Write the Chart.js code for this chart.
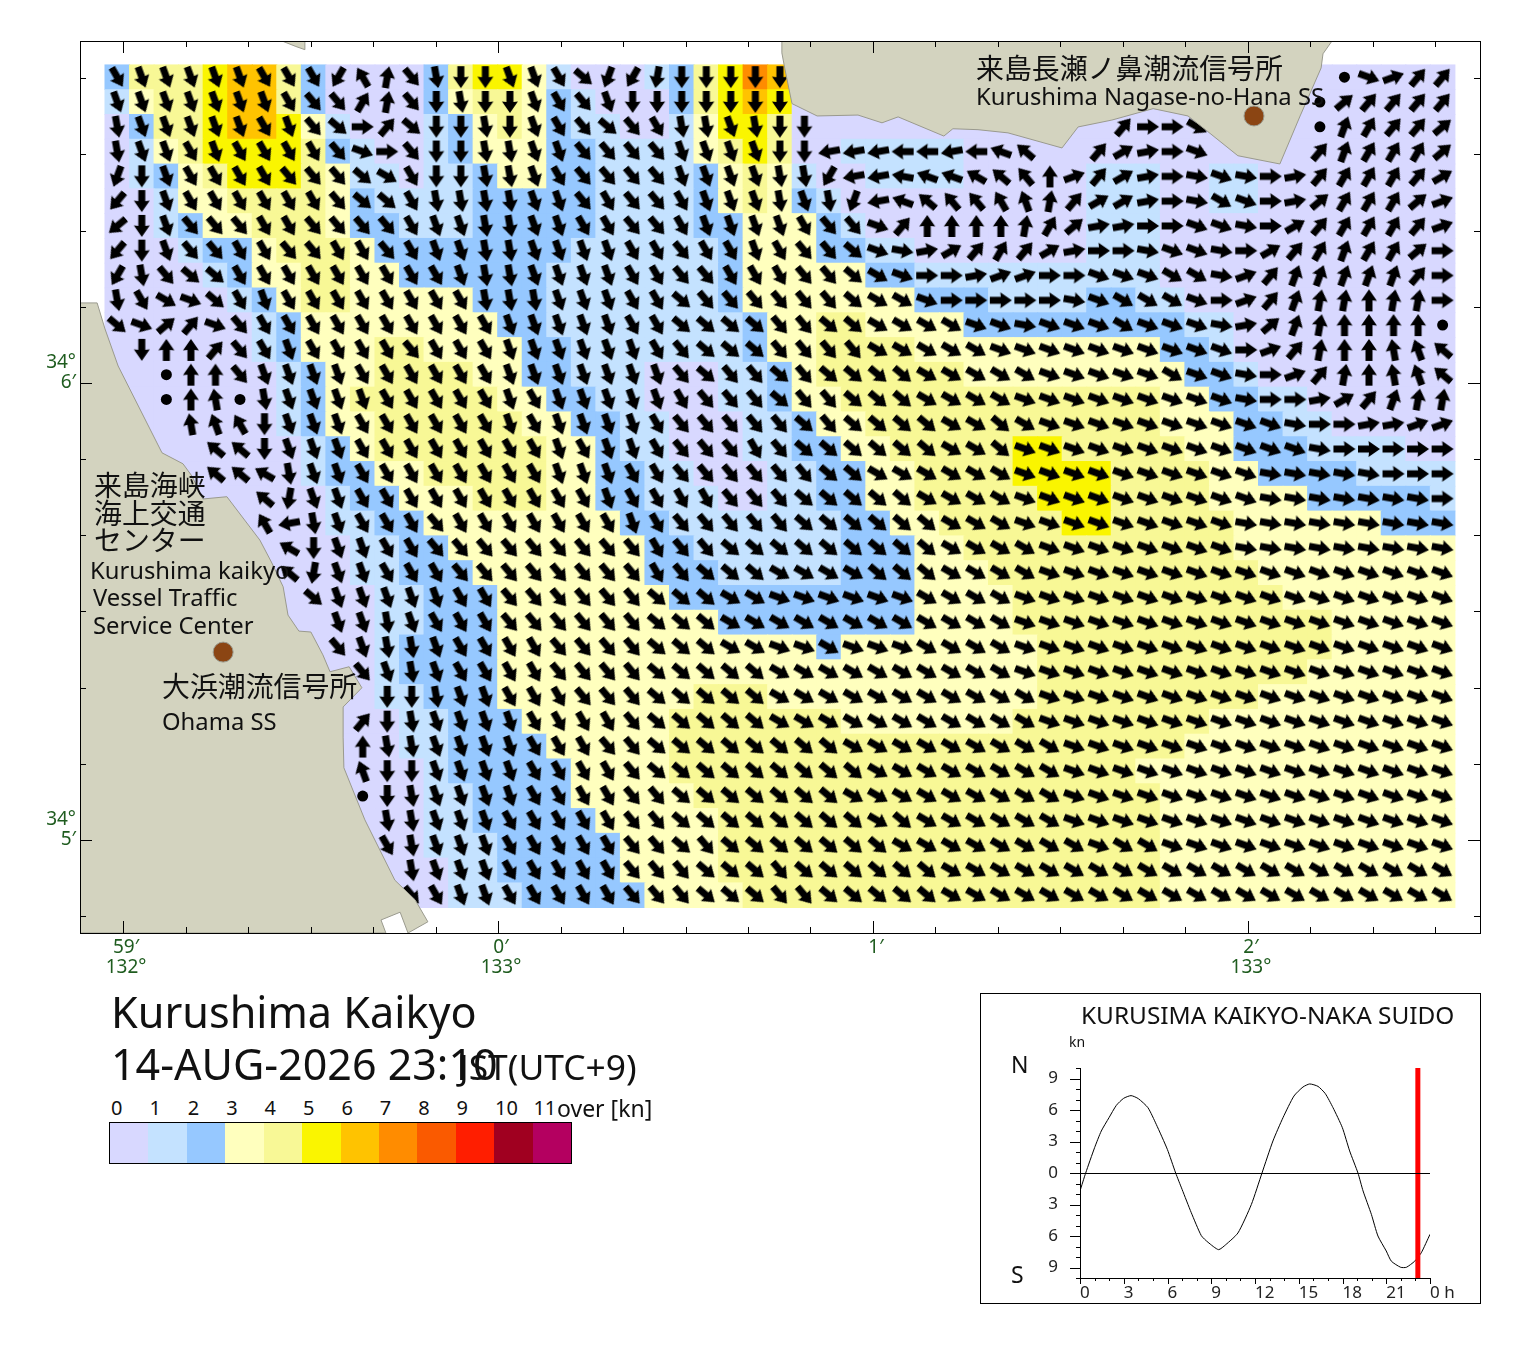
<!DOCTYPE html>
<html>
<head>
<meta charset="utf-8">
<title>Kurushima Kaikyo</title>
<script src="https://cdn.jsdelivr.net/npm/chart.js@4"></script>
<style>
    html, body { margin: 0; padding: 0; background: #fff; }
    body { position: relative; width: 1520px; height: 1353px; overflow: hidden; font-family: 'Noto Sans', 'Noto Sans CJK JP', sans-serif; color: #111; }
    canvas { position: absolute; display: block; }
    .t { position: absolute; white-space: nowrap; transform: translateY(-50%); line-height: 1; }
    .jp { font-family: 'Noto Sans CJK JP', sans-serif; font-size: 27.9px; }
    .en { font-size: 23.8px; }
    #caixa { position: absolute; left: 980px; top: 993px; width: 501px; height: 311px; box-sizing: border-box; border: 1px solid #000; }
    #barra { position: absolute; left: 109px; top: 1122px; width: 463px; height: 42px; box-sizing: border-box; border: 1px solid #000; display: flex; }
    #barra div { flex: 1; }
</style>
</head>
<body>
<canvas id="mapa" width="1520" height="985" style="left:0;top:0"></canvas>

<div class="t jp" style="left:976px;top:68px">来島長瀬ノ鼻潮流信号所</div>
<div class="t en" style="left:976px;top:97px">Kurushima Nagase-no-Hana SS</div>
<div class="t jp" style="left:94px;top:485px">来島海峡</div>
<div class="t jp" style="left:94px;top:513px">海上交通</div>
<div class="t jp" style="left:94px;top:540px">センター</div>
<div class="t en" style="left:90px;top:571px">Kurushima kaikyo</div>
<div class="t en" style="left:93px;top:598px">Vessel Traffic</div>
<div class="t en" style="left:93px;top:626px">Service Center</div>
<div class="t jp" style="left:162px;top:686px">大浜潮流信号所</div>
<div class="t en" style="left:162px;top:722px">Ohama SS</div>

<div class="t" style="left:111px;top:1012px;font-size:43.2px">Kurushima Kaikyo</div>
<div class="t" style="left:111px;top:1063px;font-size:43px">14-AUG-2026 23:10</div>
<div class="t" style="left:459px;top:1067px;font-size:35.4px">JST(UTC+9)</div>
<div id="escala"></div>
<div id="barra"></div>

<div id="caixa"></div>
<canvas id="mare" width="500" height="310" style="left:980px;top:993px"></canvas>
<div class="t" style="left:1081px;top:1015px;font-size:24.4px">KURUSIMA KAIKYO-NAKA SUIDO</div>
<div class="t" style="left:1069px;top:1042px;font-size:14px">kn</div>
<div class="t" style="left:1011px;top:1064px;font-size:23px">N</div>
<div class="t" style="left:1011px;top:1274px;font-size:23px">S</div>

<script>
// Grade de corrente: cada caractere é uma célula, blocos c0-12, c13-26, c27-40, c41-54
// Classe de velocidade (índice em coresClasse)
const classesVelocidade = [
    '2444566420000 24553100012457 60000000000000 00000000000000',
    '1344566420000 23443210002456 50000000000000 00000000000000',
    '0244566531000 12343211001355 40000000000000 00000000000000',
    '0134555542100 12333221111345 40011111000000 00000000000000',
    '0123455543110 11233221111234 31001111000001 11001100000000',
    '0013344443211 11222221111234 32100000000001 11001100000000',
    '0012334443221 11222221111223 33210000000001 11000000000000',
    '0001223444322 22222211111123 33221100000001 11000000000000',
    '0000123344332 22222111111123 33332211111111 11000000000000',
    '0000012344333 33222111111123 33333322211112 21100000000000',
    '0000001233333 33322111111112 33443333222222 22211000000000',
    '0000001233344 33332211111112 33444433333333 33221000000000',
    '0000000123344 44332211100011 23444444333333 33322100000000',
    '0000000123444 44433221100011 23344444444444 44332211000000',
    '0000000123344 44443322110001 12334444444444 44333221100000',
    '0000000012344 44444332110001 12233444445544 44433222111100',
    '0000000012233 44444332211000 11223344445555 44443322221111',
    '0000000001223 33444332211100 11223344444555 44443333222221',
    '0000000001122 33333333221111 11122334444455 44444333333222',
    '0000000000112 23333333322111 11122233444444 44444333333333',
    '0000000000112 22333333322211 11122233344444 44444433333333',
    '0000000000011 22233333332222 22222233334444 44444443333333',
    '0000000000011 22233333333322 22222233334444 44444444433333',
    '0000000000012 22233333333333 33233333333444 44444444433333',
    '0000000000012 22233333333333 33333333333444 44444444333333',
    '0000000000011 22233333333444 33333333333444 44444433333333',
    '0000000000001 12223333334444 44433333334444 44443333333333',
    '0000000000001 12222333334444 44444444444444 44433333333333',
    '0000000000000 12222233334444 44444444444444 43333333333333',
    '0000000000000 11222233333444 44444444444444 44333333333333',
    '0000000000000 11222223333344 44444444444444 44333333333333',
    '0000000000000 11122222333344 44444444444444 44333333333333',
    '0000000000000 01122222333344 44444444444444 44333333333333',
    '0000000000000 01112222233334 44444444444444 44333333333333'
];

// Rumo em dezenas de graus, base 36 (i = 180°), '.' = quase parado, '-' = sem seta
const rumos = [
    'fgggggffflx1e hiiggfdkljiiii i------------- ---------.b744',
    'gggggggfee31e ihiigfegiiiiii i------------- --------.54444',
    'hgggggfged94d iihigfedefhhgh ii------------ 499c----.23445',
    'hggfgffffeb9e iihhggeeeegggg iiqqqrrqrtv--4 689b----423335',
    'kigffffeeedcf iihhgfeeeegggg hhlqqsttuvw074 689aba98433346',
    'migffffffeddf hhhhggefeefggg hghkqtvwwxy146 689acb98533357',
    'nigeeeffeeeef gghhggffeefggg gfeeb400001358 899bba96433347',
    'migeeffeeffef gghhggggffeffg feedba86434689 9abba964323359',
    'lheddffffffff fghhggggffeeff feedcb9987799b bbcca742222249',
    'hfcbdfgffffff ffhhhgggffdeee eeedccb99999ab cccb9742110119',
    'db54befffffff fffgggggffdddd eeddccccbbabbb cbbba85210000.',
    '-i004efgffffe fffggggggfeddd eeeecccccbbbbb bbbbb974100zyv',
    '--.00eggggfff fffgggggggedee deddddcccccbbb bbcbba97410zyv',
    '--.0z.hggggff fffgfgggggfeee deedddccccbbbb bbbbba99864211',
    '---zyxigggfff fffgfggggfeeee ededdddccdcbbb bbbbbbba998877',
    '----vvigggfff fffffgfggfeeef eddddddccdbbbb bbbbbbbba99999',
    '----vvuhggfff fffffgggffeeee eeddccccccbbbb bbbbbbaaaaa999',
    '------vjggfff fffffffgffffee edddddccccbbbb bbbbbbaaaaaaa9',
    '------xqhgfff efffffffgfeeee eddddddcccbbbb bbbbbaaaaaaaaa',
    '-------uiggff eeeeeeeeefeedd dddddddccccbbb bbbbbaaaaaaaaa',
    '-------vjggff feeeeeeeefeddd ccccdddccccbbb bbbbbbbbbbbbbb',
    '--------dgggg gffeeeeeedddcc bbbbbbccccbbbb bbbbbbbbbbbbbb',
    '---------gghg fffeeeeeedddcc ccccccccccbbbb bbbbbbbbbbbbbb',
    '---------eghh gffffeeeedddcc bbcbbbccccbbbb bbbbbbbbbbbbbb',
    '----------egh gffffeeeeddddd ccccccccccbbbb bbbbbbbbbbbbbb',
    '-----------ii hggfffeeeddddd cccccccccccbbb bbbbbbbbbbbbbb',
    '----------4ih ggggffffeddddd cccccccccccbbb bbbbbbbbbbbbbb',
    '----------0hh ggggfffeeddddd dddcccccccccbb bbbbbbbbbbbbbb',
    '----------yii ggggffffeddddd ddddccccccccbb bbbbbbbbbbbbbb',
    '----------.ih ggggffffeedddd dddcccccccccbb bbbbbbbbbbbbbb',
    '-----------hh gggfffffeedddd ddddcdccccccbb bbbbbbbbbbbbbb',
    '-----------fh gggfffffeededd dddddccccccccb ccbbbbbbbbbbbb',
    '------------h gggfffffeeeddd eddddddccccccc cccccccccccccc',
    '------------e fggfffffeeeddd eedddddccccccc cccccccccccccc'
];

const coresClasse = ['#d8d8ff', '#c4e2ff', '#96c8ff', '#ffffbe', '#f8f896', '#faf500',
    '#ffc300', '#ff8c00', '#fa5a00', '#ff1e00', '#a00020', '#b40060'];
const rotulosEscala = ['0', '1', '2', '3', '4', '5', '6', '7', '8', '9', '10', '11'];

// Origem da grade em minutos: longitude a partir de 133°00', latitude a partir de 34°05'
const lonInicio = -1.01527;
const latInicio = 1.66873;
const passoLon = 0.06545;
const passoLat = 0.05423;

// Costa em minutos (lon, lat)
const terraNorteOeste = [[-0.576, 1.748], [-0.515, 1.748], [-0.515, 1.729], [-0.539, 1.736]];
const terraNorte = [[0.757, 1.748], [0.757, 1.722], [0.765, 1.687], [0.784, 1.611], [0.851, 1.584],
    [0.960, 1.586], [1.024, 1.569], [1.067, 1.582], [1.189, 1.540], [1.213, 1.556], [1.280, 1.554],
    [1.360, 1.547], [1.504, 1.514], [1.547, 1.560], [1.637, 1.575], [1.747, 1.600], [1.840, 1.584],
    [1.891, 1.551], [1.973, 1.497], [2.085, 1.479], [2.139, 1.584], [2.195, 1.689], [2.200, 1.720],
    [2.224, 1.748]];
const terraOeste = [[-1.115, 1.175], [-1.069, 1.175], [-1.048, 1.118], [-1.013, 1.037], [-0.896, 0.847],
    [-0.840, 0.823], [-0.816, 0.796], [-0.787, 0.746], [-0.723, 0.751], [-0.635, 0.656], [-0.603, 0.606],
    [-0.573, 0.554], [-0.560, 0.492], [-0.531, 0.457], [-0.499, 0.455], [-0.467, 0.405], [-0.448, 0.368],
    [-0.397, 0.379], [-0.363, 0.333], [-0.413, 0.291], [-0.413, 0.225], [-0.411, 0.158], [-0.355, 0.044],
    [-0.275, -0.088], [-0.221, -0.131], [-0.187, -0.179], [-0.240, -0.2035], [-0.261, -0.158],
    [-0.312, -0.175], [-0.299, -0.2035], [-1.115, -0.2035]];
const estacoes = [[2.016, 1.584], [-0.733, 0.411]];

const minutosLon = [-1, 0, 1, 2];
const rotulosLonMinuto = ['59′', '0′', '1′', '2′'];
const rotulosLonGrau = ['132°', '133°', '', '133°'];
const minutosLat = [0, 1];
const rotulosLatMinuto = ['5′', '6′'];

// Velocidade na maré (kn) por hora do dia
const horasMare = [0, 0.39, 1, 1.46, 1.99, 2.49, 2.99, 3.5, 4, 4.66, 5.23, 5.99, 6.56, 7, 7.63, 8.32, 8.78, 9.5,
    9.99, 10.83, 11.75, 12.48, 13.23, 13.92, 14.67, 15.29, 15.75, 16.32, 16.82, 17.35, 17.99, 18.49, 19.06,
    19.41, 19.98, 20.43, 21, 21.35, 21.99, 22.38, 22.95, 23.4, 24];
const velocidadesMare = [-1.71, 0, 2.41, 4, 5.27, 6.44, 7.11, 7.37, 7.08, 6.22, 4.63, 2.25, 0, -1.56, -3.78, -5.97, -6.6, -7.3,
    -6.83, -5.71, -3, 0, 3.05, 5.27, 7.33, 8.19, 8.48, 8.25, 7.56, 6.22, 4.32, 2.1, 0,
    -1.71, -3.94, -6, -7.43, -8.4, -8.98, -8.98, -8.4, -7.6, -5.84];
const horaAtual = 23 + 10 / 60;

const corTerra = '#d3d3bf';
const corBorda = '#9a9a8e';
const corVerde = '#1f5c1f';

function semEspacos(linha) {
    return linha.replace(/ /g, '');
}

// Seta apontando para cima, girada depois pelo pointRotation
function criarSeta() {
    const c = document.createElement('canvas');
    c.width = 30;
    c.height = 30;
    const g = c.getContext('2d');
    g.fillStyle = '#000';
    g.beginPath();
    g.moveTo(15, 4);
    g.lineTo(23, 15.5);
    g.lineTo(18.5, 15);
    g.lineTo(18.5, 26);
    g.lineTo(11.5, 26);
    g.lineTo(11.5, 15);
    g.lineTo(7, 15.5);
    g.closePath();
    g.fill();
    return c;
}

const seta = criarSeta();
const celulas = [];
const setas = [];

classesVelocidade.forEach((linha, r) => {
    const classes = semEspacos(linha);
    const direcoes = semEspacos(rumos[r]);
    for (let c = 0; c < classes.length; c++) {
        const x = lonInicio + c * passoLon;
        const y = latInicio - r * passoLat;
        celulas.push({ x, y, classe: Number(classes[c]) });
        if (direcoes[c] !== '-') {
            setas.push({ x, y, rumo: direcoes[c] });
        }
    }
});

function marcasX(ctx, escala, area, grande) {
    escala.ticks.forEach(t => {
        const px = Math.round(escala.getPixelForValue(t.value)) + 0.5;
        const len = grande(t.value) ? 12 : 6;
        ctx.moveTo(px, area.top);
        ctx.lineTo(px, area.top + len);
        ctx.moveTo(px, area.bottom);
        ctx.lineTo(px, area.bottom - len);
    });
}

function marcasY(ctx, escala, area, grande) {
    escala.ticks.forEach(t => {
        const py = Math.round(escala.getPixelForValue(t.value)) + 0.5;
        const len = grande(t.value) ? 12 : 6;
        ctx.moveTo(area.left, py);
        ctx.lineTo(area.left + len, py);
        ctx.moveTo(area.right, py);
        ctx.lineTo(area.right - len, py);
    });
}

const ehMinuto = v => Math.abs(v - Math.round(v)) < 0.001;

// Terra, estações e moldura por cima das setas
const pluginCosta = {
    id: 'costa',
    afterDatasetsDraw(chart) {
        const { ctx, chartArea: area, scales: { x, y } } = chart;
        ctx.save();
        ctx.beginPath();
        ctx.rect(area.left, area.top, area.right - area.left, area.bottom - area.top);
        ctx.clip();
        [terraNorteOeste, terraNorte, terraOeste].forEach(poligono => {
            ctx.beginPath();
            poligono.forEach((p, i) => {
                const px = x.getPixelForValue(p[0]);
                const py = y.getPixelForValue(p[1]);
                if (i === 0) ctx.moveTo(px, py); else ctx.lineTo(px, py);
            });
            ctx.closePath();
            ctx.fillStyle = corTerra;
            ctx.fill();
            ctx.strokeStyle = corBorda;
            ctx.lineWidth = 1;
            ctx.stroke();
        });
        estacoes.forEach(p => {
            ctx.beginPath();
            ctx.arc(x.getPixelForValue(p[0]), y.getPixelForValue(p[1]), 10, 0, Math.PI * 2);
            ctx.fillStyle = '#8b4513';
            ctx.fill();
            ctx.strokeStyle = corBorda;
            ctx.stroke();
        });
        ctx.restore();

        ctx.save();
        ctx.strokeStyle = '#000';
        ctx.lineWidth = 1;
        ctx.beginPath();
        marcasX(ctx, x, area, ehMinuto);
        marcasY(ctx, y, area, ehMinuto);
        ctx.stroke();
        ctx.strokeRect(area.left + 0.5, area.top + 0.5, area.right - area.left, area.bottom - area.top);
        ctx.restore();
    }
};

function rotuloLon(valor) {
    const i = minutosLon.findIndex(m => Math.abs(m - valor) < 0.001);
    if (i < 0) return '';
    return rotulosLonGrau[i] ? [rotulosLonMinuto[i], rotulosLonGrau[i]] : [rotulosLonMinuto[i]];
}

function rotuloLat(valor) {
    const i = minutosLat.findIndex(m => Math.abs(m - valor) < 0.001);
    return i < 0 ? '' : ['34°', rotulosLatMinuto[i], ''];
}

new Chart(document.getElementById('mapa'), {
    type: 'scatter',
    data: {
        datasets: [
            {
                data: setas,
                order: 1,
                pointStyle: c => (c.raw.rumo === '.' ? 'circle' : seta),
                pointRadius: c => (c.raw.rumo === '.' ? 5.5 : 11),
                pointRotation: c => (c.raw.rumo === '.' ? 0 : parseInt(c.raw.rumo, 36) * 10),
                pointBackgroundColor: '#000',
                pointBorderWidth: 0
            },
            {
                data: celulas,
                order: 2,
                pointStyle: 'rect',
                pointRadius: 18.1,
                pointBackgroundColor: c => coresClasse[c.raw.classe],
                pointBorderWidth: 0
            }
        ]
    },
    options: {
        responsive: false,
        animation: false,
        events: [],
        devicePixelRatio: 1,
        layout: { padding: { top: 41, right: 40 } },
        plugins: { legend: { display: false }, tooltip: { enabled: false } },
        scales: {
            x: {
                type: 'linear',
                min: -1.1147,
                max: 2.6187,
                grid: { display: false, drawTicks: false },
                border: { display: false },
                afterBuildTicks: escala => {
                    escala.ticks = [];
                    for (let k = -6; k <= 15; k++) escala.ticks.push({ value: k / 6 });
                },
                afterFit: escala => { escala.height = 52; },
                ticks: {
                    autoSkip: false,
                    maxRotation: 0,
                    padding: 4,
                    labelOffset: 3,
                    color: corVerde,
                    font: { size: 19, family: 'Noto Sans', lineHeight: 1.07 },
                    callback: rotuloLon
                }
            },
            y: {
                type: 'linear',
                min: -0.2035,
                max: 1.748,
                grid: { display: false, drawTicks: false },
                border: { display: false },
                afterBuildTicks: escala => {
                    escala.ticks = [];
                    for (let k = -1; k <= 10; k++) escala.ticks.push({ value: k / 6 });
                },
                afterFit: escala => { escala.width = 80; },
                ticks: {
                    autoSkip: false,
                    padding: 4,
                    color: corVerde,
                    font: { size: 19, family: 'Noto Sans', lineHeight: 1.07 },
                    callback: rotuloLat
                }
            }
        }
    },
    plugins: [pluginCosta]
});

// Marcas do gráfico de maré: eixo Y à esquerda, eixo X para baixo, linha do zero
const pluginEixosMare = {
    id: 'eixosMare',
    afterDatasetsDraw(chart) {
        const { ctx, chartArea: area, scales: { x, y } } = chart;
        ctx.save();
        ctx.strokeStyle = '#000';
        ctx.lineWidth = 1;
        ctx.beginPath();
        ctx.moveTo(area.left + 0.5, area.top);
        ctx.lineTo(area.left + 0.5, area.bottom + 0.5);
        ctx.lineTo(area.right, area.bottom + 0.5);
        for (let v = -10; v <= 10; v++) {
            const py = Math.round(y.getPixelForValue(v)) + 0.5;
            ctx.moveTo(area.left, py);
            ctx.lineTo(area.left - (v % 3 === 0 ? 10 : 4), py);
        }
        for (let h = 0; h <= 24; h++) {
            const px = Math.round(x.getPixelForValue(h)) + 0.5;
            ctx.moveTo(px, area.bottom);
            ctx.lineTo(px, area.bottom + (h % 3 === 0 ? 6 : 3));
        }
        const zero = Math.round(y.getPixelForValue(0)) + 0.5;
        ctx.moveTo(area.left, zero);
        ctx.lineTo(area.right, zero);
        ctx.stroke();
        ctx.restore();
    }
};

new Chart(document.getElementById('mare'), {
    type: 'scatter',
    data: {
        datasets: [
            {
                data: [{ x: horaAtual, y: -10 }, { x: horaAtual, y: 10 }],
                showLine: true,
                order: 1,
                borderColor: '#ff0000',
                borderWidth: 5,
                pointRadius: 0,
                borderCapStyle: 'butt'
            },
            {
                data: horasMare.map((h, i) => ({ x: h, y: velocidadesMare[i] })),
                showLine: true,
                order: 2,
                borderColor: '#000',
                borderWidth: 1,
                pointRadius: 0,
                tension: 0.2
            }
        ]
    },
    options: {
        responsive: false,
        animation: false,
        events: [],
        devicePixelRatio: 1,
        layout: { padding: { top: 75, right: 50 } },
        plugins: { legend: { display: false }, tooltip: { enabled: false } },
        scales: {
            x: {
                type: 'linear',
                min: 0,
                max: 24,
                grid: { display: false, drawTicks: false },
                border: { display: false },
                afterFit: escala => { escala.height = 25; },
                ticks: {
                    stepSize: 3,
                    autoSkip: false,
                    maxRotation: 0,
                    align: 'start',
                    padding: 5,
                    color: '#222',
                    font: { size: 17, family: 'Noto Sans' },
                    callback: v => (v === 24 ? '0 h' : String(v))
                }
            },
            y: {
                type: 'linear',
                min: -10,
                max: 10,
                grid: { display: false, drawTicks: false },
                border: { display: false },
                afterBuildTicks: escala => {
                    escala.ticks = [-9, -6, -3, 0, 3, 6, 9].map(v => ({ value: v }));
                },
                // sem isso o padding dos rótulos encolhe a área do gráfico
                afterFit: escala => {
                    escala.width = 100;
                    escala.paddingTop = 0;
                    escala.paddingBottom = 0;
                },
                ticks: {
                    padding: 22,
                    color: '#222',
                    font: { size: 17, family: 'Noto Sans' },
                    callback: v => String(Math.abs(v))
                }
            }
        }
    },
    plugins: [pluginEixosMare]
});

// Escala de cores e rótulos
const barra = document.getElementById('barra');
const escalaTexto = document.getElementById('escala');
coresClasse.forEach((cor, i) => {
    const bloco = document.createElement('div');
    bloco.style.background = cor;
    barra.appendChild(bloco);

    const rotulo = document.createElement('div');
    rotulo.className = 't';
    rotulo.textContent = rotulosEscala[i];
    rotulo.style.cssText = `left:${111 + i * 38.4}px;top:1108px;font-size:20px`;
    escalaTexto.appendChild(rotulo);
});
const over = document.createElement('div');
over.className = 't';
over.textContent = 'over [kn]';
over.style.cssText = 'left:557px;top:1108px;font-size:23px';
escalaTexto.appendChild(over);
</script>
</body>
</html>
